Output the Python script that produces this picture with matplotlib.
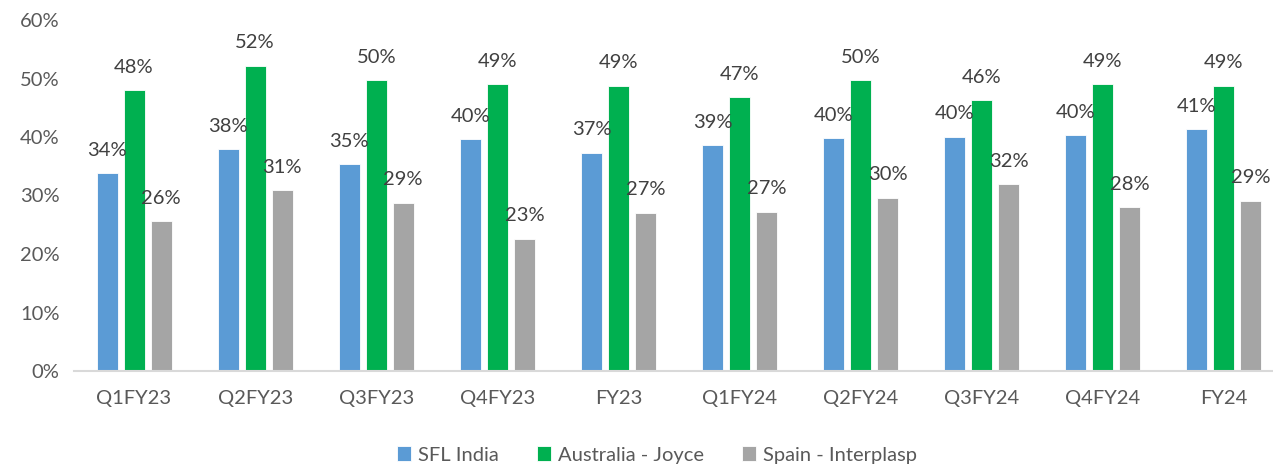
import matplotlib
matplotlib.use("Agg")
import matplotlib.pyplot as plt
import numpy as np

categories = ["Q1FY23", "Q2FY23", "Q3FY23", "Q4FY23", "FY23",
              "Q1FY24", "Q2FY24", "Q3FY24", "Q4FY24", "FY24"]
sfl_india = [33.8, 37.9, 35.3, 39.6, 37.3, 38.6, 39.8, 40.0, 40.3, 41.3]
australia_joyce = [48.0, 52.2, 49.7, 49.0, 48.8, 46.8, 49.7, 46.3, 49.0, 48.7]
spain_interplasp = [25.6, 30.9, 28.7, 22.6, 27.0, 27.2, 29.6, 31.9, 28.0, 29.1]
series_names = ["SFL India", "Australia - Joyce", "Spain - Interplasp"]
y_ticks = [0, 10, 20, 30, 40, 50, 60]

colors = ["#5B9BD5", "#00B050", "#A5A5A5"]
text_color = "#404040"
tick_color = "#595959"

plt.rcParams['font.family'] = ['Lato', 'DejaVu Sans']

W, H = 1273, 467
fig = plt.figure(figsize=(W / 100, H / 100), dpi=100)
left_px, right_px, top_px, bottom_px = 73.5, 1273, 20, 371
ax = fig.add_axes([left_px / W, 1 - bottom_px / H,
                   (right_px - left_px) / W, (bottom_px - top_px) / H])

x = np.arange(len(categories))
cat_w = 121.1
bar_w = 21 / cat_w
step = 27 / cat_w
fs = 14.5
all_series = [sfl_india, australia_joyce, spain_interplasp]
for i, (vals, name, c) in enumerate(zip(all_series, series_names, colors)):
    pos = x + (i - 1) * step
    ax.bar(pos, vals, width=bar_w, color=c, label=name,
           edgecolor="white", linewidth=0.6)
    for p, v in zip(pos, vals):
        ax.text(p, v + 2.5, f"{v:.0f}%", ha="center", va="bottom",
                fontsize=fs, color=text_color)

right_lim = 9.5 - (left_px + cat_w * 10 - right_px) / cat_w
ax.set_xlim(-0.5, right_lim)
ax.set_ylim(0, 60)
ax.set_yticks(y_ticks)
ax.set_yticklabels([f"{t}%" for t in y_ticks], fontsize=fs, color=tick_color)
ax.set_xticks(x)
ax.set_xticklabels(categories, fontsize=fs, color=tick_color)
ax.tick_params(axis="both", length=0)
ax.tick_params(axis="y", pad=10)
ax.tick_params(axis="x", pad=14)
for s in ["top", "right", "left"]:
    ax.spines[s].set_visible(False)
ax.spines["bottom"].set_color("#D9D9D9")
ax.spines["bottom"].set_linewidth(1.5)

leg = fig.legend(loc="center", bbox_to_anchor=(0.516, 1 - 455 / H), ncol=3,
                 frameon=False, fontsize=fs, handlelength=0.7, handleheight=0.7,
                 handletextpad=0.35, columnspacing=1.9)
for t in leg.get_texts():
    t.set_color(tick_color)

fig.savefig("out.png", dpi=100)
